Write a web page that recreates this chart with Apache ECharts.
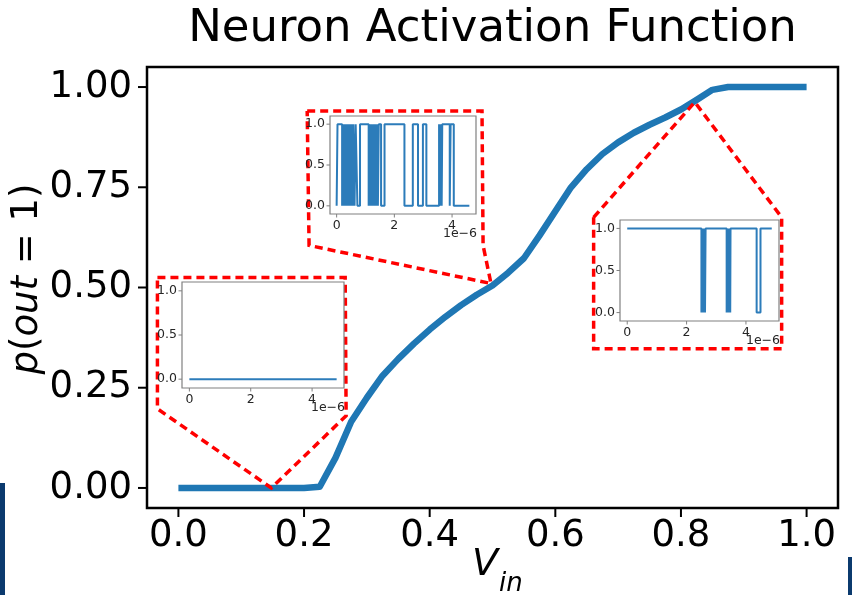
<!DOCTYPE html>
<html><head><meta charset="utf-8">
<script src="https://cdn.jsdelivr.net/npm/echarts@6/dist/echarts.min.js"></script>
<style>html,body{margin:0;padding:0;background:#fff}#c{width:852px;height:595px}</style>
</head><body><div id="c"></div>
<script>
// ---- main curve data ----
const vin  = [0, 0.05, 0.1, 0.15, 0.2, 0.225, 0.25, 0.275, 0.3, 0.325, 0.35, 0.375, 0.4, 0.425, 0.45, 0.475, 0.5, 0.525, 0.55, 0.575, 0.6, 0.625, 0.65, 0.675, 0.7, 0.725, 0.75, 0.775, 0.8, 0.825, 0.85, 0.875, 0.9, 0.95, 1.0];
const pout = [0, 0, 0, 0, 0, 0.003, 0.075, 0.165, 0.225, 0.28, 0.322, 0.36, 0.395, 0.427, 0.456, 0.482, 0.505, 0.537, 0.573, 0.63, 0.69, 0.75, 0.795, 0.833, 0.862, 0.886, 0.906, 0.924, 0.944, 0.968, 0.993, 1.0, 1.0, 1.0, 1.0];
const xTickValues = [0, 0.2, 0.4, 0.6, 0.8, 1.0];
const yTickValues = [0, 0.25, 0.5, 0.75, 1.0];

// ---- callout outlines (main-axis data coordinates) ----
const leftCalloutX  = [-0.0334, 0.2655, 0.267, 0.148, -0.0334, -0.0334];
const leftCalloutY  = [0.525, 0.525, 0.18, 0.0, 0.1975, 0.525];
const midCalloutX   = [0.205, 0.4833, 0.485, 0.4976, 0.208, 0.205];
const midCalloutY   = [0.94, 0.94, 0.605, 0.51, 0.605, 0.94];
const rightCalloutX = [0.661, 0.822, 0.9603, 0.9603, 0.661, 0.661];
const rightCalloutY = [0.675, 0.9625, 0.675, 0.3475, 0.3475, 0.675];

// ---- inset traces (time in units of 1e-6 s; state toggles at listed times) ----
const insetXTicks = [0, 2, 4];
const insetYTicks = [0, 0.5, 1.0];
const lowStart = 0, lowEnd = 4.8;
const lowSwitches = [];
const midStart = 0, midEnd = 4.6;
const midSwitches = [0.03, 0.19, 0.21, 0.24, 0.26, 0.29, 0.31, 0.34, 0.37, 0.39, 0.42, 0.45, 0.48, 0.50, 0.53, 0.56, 0.58, 0.62, 0.66, 0.72, 0.81,
  1.11, 1.14, 1.17, 1.20, 1.23, 1.27, 1.30, 1.33, 1.36, 1.40, 1.43, 1.46, 1.54, 1.66,
  2.35, 2.64, 2.82, 2.99, 3.11, 3.55, 3.58, 3.61, 3.64, 3.66, 3.92, 3.95, 4.06];
const highStart = 1, highEnd = 4.87;
const highSwitches = [2.50, 2.52, 2.54, 2.56, 2.58, 2.60, 2.62, 2.64,
  3.35, 3.37, 3.39, 3.41, 3.43, 3.45, 3.47, 3.48, 4.36, 4.49];

function steps(start, sw, end) {
  let s = start; const d = [[0, s]];
  sw.forEach(t => { s = 1 - s; d.push([t, s]); });
  d.push([end, s]);
  return d;
}

// ---- layout ----
const mainBox = {left: 147, top: 67, width: 691, height: 441};
const insets = [
  {left: 182, top: 282, width: 162, height: 106, xmin: -0.24, xmax: 5.04, data: steps(lowStart, lowSwitches, lowEnd)},
  {left: 330, top: 116, width: 146, height: 98, xmin: -0.23, xmax: 4.83, data: steps(midStart, midSwitches, midEnd)},
  {left: 620, top: 220, width: 159, height: 101, xmin: -0.2435, xmax: 5.1135, data: steps(highStart, highSwitches, highEnd)}
];
const FONT = 'DejaVu Sans';

const grids = [Object.assign({show: true, borderColor: '#000', borderWidth: 2.5, backgroundColor: '#fff', containLabel: false}, mainBox)];
const xAxes = [{
  gridIndex: 0, type: 'value', min: -0.05, max: 1.05, position: 'bottom',
  axisLine: {show: false, onZero: false}, splitLine: {show: false}, axisTick: {show: false},
  axisLabel: {customValues: xTickValues, formatter: v => v.toFixed(1), fontFamily: FONT, fontSize: 37, color: '#000', margin: 10}
}];
const yAxes = [{
  gridIndex: 0, type: 'value', min: -0.05, max: 1.05, position: 'left',
  axisLine: {show: false, onZero: false}, splitLine: {show: false}, axisTick: {show: false},
  axisLabel: {customValues: yTickValues, formatter: v => v.toFixed(2), fontFamily: FONT, fontSize: 37, color: '#000', margin: 15}
}];
const series = [{
  type: 'line', xAxisIndex: 0, yAxisIndex: 0, data: vin.map((v, i) => [v, pout[i]]),
  showSymbol: false, lineStyle: {color: '#1f77b4', width: 6.5, cap: 'butt', join: 'round'}, z: 2, animation: false
}];
[[leftCalloutX, leftCalloutY], [midCalloutX, midCalloutY], [rightCalloutX, rightCalloutY]].forEach(([xs, ys]) => {
  series.push({type: 'line', xAxisIndex: 0, yAxisIndex: 0, data: xs.map((v, i) => [v, ys[i]]),
    showSymbol: false, lineStyle: {color: '#ff0000', width: 3.5, type: [8, 5], join: 'miter'}, z: 3, animation: false});
});
const graphics = [];
insets.forEach((b, k) => {
  const gi = k + 1;
  grids.push({left: b.left, top: b.top, width: b.width, height: b.height, show: true, borderColor: '#808080', borderWidth: 1.2, backgroundColor: '#fff', z: 4});
  xAxes.push({gridIndex: gi, type: 'value', min: b.xmin, max: b.xmax, z: 4, position: 'bottom',
    axisLine: {show: false, onZero: false}, splitLine: {show: false}, axisTick: {show: false},
    axisLabel: {customValues: insetXTicks, formatter: v => String(v), fontFamily: FONT, fontSize: 12.5, color: '#262626', margin: 5}});
  yAxes.push({gridIndex: gi, type: 'value', min: -0.1, max: 1.1, z: 4, position: 'left',
    axisLine: {show: false, onZero: false}, splitLine: {show: false}, axisTick: {show: false},
    axisLabel: {customValues: insetYTicks, formatter: v => v.toFixed(1), fontFamily: FONT, fontSize: 12.5, color: '#262626', margin: 5}});
  series.push({type: 'line', xAxisIndex: gi, yAxisIndex: gi, data: b.data, step: 'end', showSymbol: false,
    lineStyle: {color: '#2c7cba', width: 2}, z: 5, animation: false});
  graphics.push({type: 'text', x: b.left + b.width + 1, y: b.top + b.height + 20, z: 10,
    style: {text: '1e\u22126', font: '12.5px "DejaVu Sans"', fill: '#262626', textAlign: 'right', textVerticalAlign: 'middle'}});
});

// titles / axis names / decorations
graphics.push({type: 'text', x: 492.5, y: 29, z: 10,
  style: {text: 'Neuron Activation Function', font: '45px "DejaVu Sans"', fill: '#000', textAlign: 'center', textVerticalAlign: 'middle'}});
graphics.push({type: 'text', x: 27, y: 279, rotation: Math.PI / 2, z: 10,
  style: {text: '{i|p}{n|(}{i|out}{n| = 1)}', textAlign: 'center', textVerticalAlign: 'middle',
    rich: {i: {font: 'italic 37px "DejaVu Sans"', fill: '#000'}, n: {font: '37px "DejaVu Sans"', fill: '#000'}}}});
graphics.push({type: 'text', x: 485, y: 565, z: 10,
  style: {text: 'V', font: 'italic 38px "DejaVu Sans"', fill: '#000', textAlign: 'center', textVerticalAlign: 'middle'}});
graphics.push({type: 'text', x: 499, y: 584, z: 10,
  style: {text: 'in', font: 'italic 26px "DejaVu Sans"', fill: '#000', textAlign: 'left', textVerticalAlign: 'middle'}});
graphics.push({type: 'rect', shape: {x: 0, y: 483, width: 5, height: 112}, style: {fill: '#0b3a6e'}, z: 10});
graphics.push({type: 'rect', shape: {x: 848, y: 557, width: 4, height: 38}, style: {fill: '#0b3a6e'}, z: 10});

const chart = echarts.init(document.getElementById('c'), null, {renderer: 'canvas'});
chart.setOption({animation: false, grid: grids, xAxis: xAxes, yAxis: yAxes, series: series, graphic: graphics});

// tick marks placed through the axes' own scales
function addTicks(axisIdx, box, xt, yt, len, color, width) {
  xt.forEach(v => {
    const px = chart.convertToPixel({xAxisIndex: axisIdx}, v);
    const y0 = box.top + box.height;
    graphics.push({type: 'line', z: 9, shape: {x1: px, y1: y0, x2: px, y2: y0 + len}, style: {stroke: color, lineWidth: width}});
  });
  yt.forEach(v => {
    const py = chart.convertToPixel({yAxisIndex: axisIdx}, v);
    graphics.push({type: 'line', z: 9, shape: {x1: box.left, y1: py, x2: box.left - len, y2: py}, style: {stroke: color, lineWidth: width}});
  });
}
addTicks(0, mainBox, xTickValues, yTickValues, 9, '#000', 2);
insets.forEach((b, k) => addTicks(k + 1, b, insetXTicks, insetYTicks, 3.5, '#808080', 1));
chart.setOption({graphic: graphics}, {replaceMerge: ['graphic']});
</script></body></html>
